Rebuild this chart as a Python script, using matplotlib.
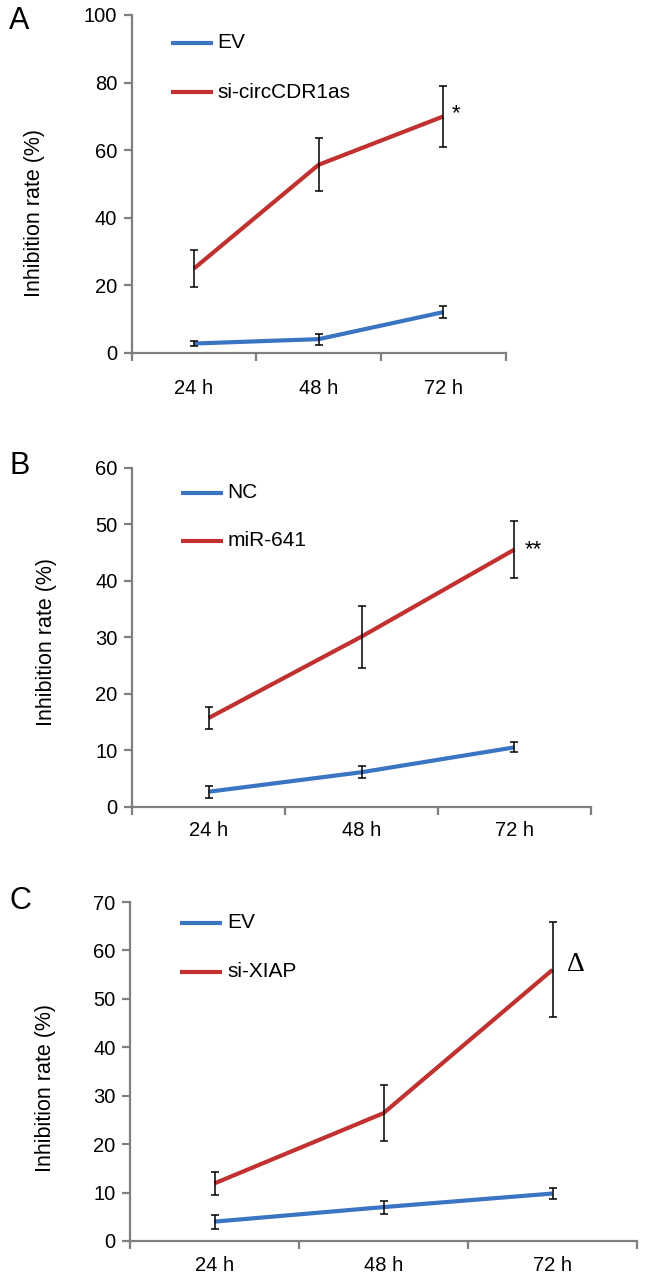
import matplotlib
matplotlib.use("Agg")
import matplotlib.pyplot as plt
from matplotlib.lines import Line2D

plt.rcParams['font.family'] = ['Liberation Sans Narrow', 'Liberation Sans', 'DejaVu Sans']

W, H = 646, 1284

# data
times = ['24 h', '48 h', '72 h']

a_ev = [2.8, 4.1, 12.1]
a_ev_err = [0.8, 1.6, 1.8]
a_si = [25.0, 55.7, 70.0]
a_si_err = [5.5, 7.8, 9.0]

b_nc = [2.65, 6.1, 10.5]
b_nc_err = [1.05, 1.1, 0.9]
b_mir = [15.7, 30.1, 45.5]
b_mir_err = [1.9, 5.5, 5.0]

c_ev = [4.0, 7.0, 9.8]
c_ev_err = [1.45, 1.35, 1.2]
c_si = [11.9, 26.4, 56.0]
c_si_err = [2.3, 5.8, 9.8]

blue = '#3b74c2'
red = '#c0312f'
grey = '#7f7f7f'

fig = plt.figure(figsize=(W / 100, H / 100), dpi=100)


def px(x, y):
    return x / W, 1 - y / H


def panel(box, ymax, ystep, low, low_err, high, high_err, names, mark, mark_off,
          mark_font, xpad, letter, letter_xy, ylab_xy, leg_x, leg_y):
    left, top, right, bottom = box
    ax = fig.add_axes([left / W, 1 - bottom / H, (right - left) / W, (bottom - top) / H])
    xs = [0.5, 1.5, 2.5]
    ax.plot(xs, low, color=blue, lw=3, solid_capstyle='butt', zorder=2)
    ax.plot(xs, high, color=red, lw=3, solid_capstyle='butt', zorder=2)
    ax.errorbar(xs, low, yerr=low_err, fmt='none', ecolor='black', elinewidth=1.1,
                capsize=3, capthick=1.1, zorder=3)
    ax.errorbar(xs, high, yerr=high_err, fmt='none', ecolor='black', elinewidth=1.1,
                capsize=3, capthick=1.1, zorder=3)
    ax.set_xlim(0, 3)
    ax.set_ylim(0, ymax)
    ax.set_yticks(range(0, ymax + 1, ystep))
    ax.set_xticks([0, 1, 2, 3])
    ax.set_xticklabels([])
    ax.set_xticks(xs, minor=True)
    ax.set_xticklabels(times, minor=True)
    for s in ['top', 'right']:
        ax.spines[s].set_visible(False)
    for s in ['left', 'bottom']:
        ax.spines[s].set_color(grey)
        ax.spines[s].set_linewidth(1.6)
    ax.tick_params(axis='y', direction='out', length=5.5, width=1.6, color=grey,
                   labelsize=14.5, pad=5)
    ax.tick_params(axis='x', which='major', direction='out', length=5.5, width=1.6,
                   color=grey)
    ax.tick_params(axis='x', which='minor', length=0, labelsize=14.5, pad=xpad)

    ax.annotate(mark, xy=(2.5, high[2]), xytext=mark_off, textcoords='offset pixels',
                ha='left', va='center', **mark_font)

    fig.text(*px(*letter_xy), letter, fontsize=22, ha='center', va='center')
    fig.text(*px(*ylab_xy), 'Inhibition rate (%)', fontsize=15.5, rotation=90,
             ha='center', va='center')

    for name, col, yy in zip(names, [blue, red], leg_y):
        x0, y0 = px(leg_x, yy)
        x1, _ = px(leg_x + 42, yy)
        fig.add_artist(Line2D([x0, x1], [y0, y0], color=col, lw=3,
                              solid_capstyle='butt'))
        fig.text(*px(leg_x + 47, yy), name, fontsize=15, ha='left', va='center')
    return ax


panel((131.7, 15, 505.7, 353), 100, 20, a_ev, a_ev_err, a_si, a_si_err,
      ['EV', 'si-circCDR1as'], '*', (8, 3), dict(fontsize=16),
      19, 'A', (19, 21), (34.6, 213), 170.7, [43, 92])

panel((132.3, 467.7, 590.7, 806.7), 60, 10, b_nc, b_nc_err, b_mir, b_mir_err,
      ['NC', 'miR-641'], '**', (10, 0), dict(fontsize=16),
      10.5, 'B', (20, 466), (46.6, 641.7), 180.5, [492.7, 540.7])

panel((130, 902, 637, 1241), 70, 10, c_ev, c_ev_err, c_si, c_si_err,
      ['EV', 'si-XIAP'], '\u0394', (14, 5), dict(fontsize=20, family=['Liberation Serif', 'DejaVu Serif']),
      10.5, 'C', (20, 901), (46, 1088), 180.4, [923, 971.7])

fig.savefig('out.png', dpi=100)
